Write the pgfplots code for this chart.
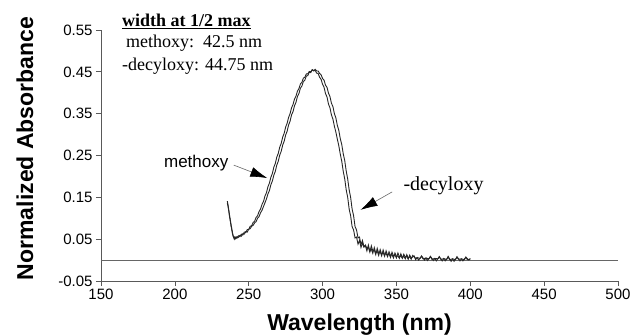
\documentclass[border=0pt]{standalone}
\usepackage{pgfplots}
\pgfplotsset{compat=1.18}
\usepackage{fontspec}
\setmainfont{Liberation Serif}
\setsansfont{Liberation Sans}
\usetikzlibrary{arrows.meta}
\begin{document}
\begin{tikzpicture}
\path[use as bounding box] (-101bp,-55bp) rectangle (534bp,281bp);
\begin{axis}[
  scale only axis, width=517bp, height=251bp,
  xmin=150, xmax=500, ymin=-0.05, ymax=0.55,
  axis x line*=bottom, axis y line*=left,
  axis line style={black!65, line width=0.8bp},
  xtick={150,200,250,300,350,400,450,500},
  xticklabels={150,200,250,300,350,400,450,500},
  ytick={-0.05,0.05,0.15,0.25,0.35,0.45,0.55},
  yticklabels={-0.05,0.05,0.15,0.25,0.35,0.45,0.55},
  tick align=outside, major tick length=5bp,
  tick style={black!65, line width=0.7bp},
  ticklabel style={font=\sffamily\fontsize{15bp}{17bp}\selectfont},
  xlabel={Wavelength (nm)}, ylabel={Normalized Absorbance},
  label style={font=\sffamily\bfseries\fontsize{23bp}{26bp}\selectfont},
  xlabel style={at={(axis description cs:0.5,0)}, anchor=base, yshift=-49bp},
  ylabel style={at={(axis description cs:-0.1315,0.528)}, anchor=base},
  clip=false,
]
% zero line
\addplot[black!60, line width=0.7bp] coordinates {(150,0) (500,0)};
% methoxy
\addplot[black!85, line width=0.9bp] coordinates {
(235.5,0.141) (236,0.132) (236.5,0.120) (237,0.108) (237.5,0.097) (238,0.086) (238.5,0.076) (239,0.066) (239.5,0.058) (240,0.052)
(240.5,0.055) (241,0.051) (242,0.056) (243,0.054) (244,0.059) (245,0.057) (246,0.063) (247,0.062) (248,0.068) (249,0.067)
(250,0.074) (251,0.075) (252,0.081) (253,0.083) (254,0.089) (255,0.092) (256,0.100) (257,0.104) (258,0.113) (259,0.119)
(260,0.128) (261,0.137) (262,0.146) (263,0.158) (264,0.166) (265,0.180) (266,0.189) (267,0.203) (268,0.212) (269,0.227)
(270,0.236) (271,0.251) (272,0.260) (273,0.275) (274,0.284) (275,0.299) (276,0.308) (277,0.323) (278,0.332) (279,0.347)
(280,0.355) (281,0.369) (282,0.377) (283,0.391) (284,0.398) (285,0.411) (286,0.416) (287,0.427) (288,0.430) (289,0.440)
(290,0.441) (291,0.449) (292,0.448) (293,0.455) (294,0.452) (295,0.454) (296,0.447) (297,0.446) (298,0.437) (299,0.432)
(300,0.420) (301,0.413) (302,0.398) (303,0.390) (304,0.373) (305,0.364) (306,0.347) (307,0.337) (308,0.320) (309,0.306)
(310,0.289) (311,0.273) (312,0.253) (313,0.236) (314,0.212) (315,0.194) (316,0.168) (317,0.150) (318,0.122) (319,0.106)
(320,0.080) (321,0.072) (322,0.053) (323,0.055) (324,0.038) (325,0.047) (326,0.030) (327,0.041) (328,0.031) (329,0.034)
(330,0.022) (331,0.036) (332,0.021) (333,0.026) (334,0.016) (335,0.030) (336,0.017) (337,0.021) (338,0.011) (339,0.025)
(340,0.014) (341,0.018) (342,0.009) (343,0.022) (344,0.012) (345,0.015) (346,0.006) (347,0.019) (348,0.010) (349,0.012)
(350,0.005) (351,0.017) (352,0.008) (353,0.010) (354,0.004) (355,0.014) (356,0.007) (357,0.009) (358,0.002) (359,0.012)
(360,0.005) (362,0.010) (363,0.001) (364,0.006) (366,0.004) (367,0.010) (369,0.000) (370,0.005) (372,0.003) (373,0.009)
(375,-0.001) (376,0.004) (378,0.003) (379,0.008) (381,-0.002) (382,0.004) (384,0.001) (385,0.009) (387,-0.003) (388,0.003)
(390,0.001) (391,0.008) (393,-0.002) (394,0.003) (396,0.001) (397,0.007) (399,0.000) (400,0.004)
};
% decyloxy
\addplot[black!85, line width=0.9bp] coordinates {
(235.5,0.137) (236,0.128) (236.5,0.117) (237,0.104) (237.5,0.094) (238,0.082) (238.5,0.073) (239,0.063) (239.5,0.056) (240,0.054)
(240.5,0.050) (241,0.055) (242,0.052) (243,0.058) (244,0.056) (245,0.062) (246,0.060) (247,0.067) (248,0.066) (249,0.073)
(250,0.073) (251,0.081) (252,0.082) (253,0.090) (254,0.093) (255,0.102) (256,0.106) (257,0.116) (258,0.122) (259,0.133)
(260,0.140) (261,0.153) (262,0.161) (263,0.175) (264,0.184) (265,0.198) (266,0.207) (267,0.222) (268,0.231) (269,0.246)
(270,0.255) (271,0.270) (272,0.279) (273,0.294) (274,0.303) (275,0.318) (276,0.327) (277,0.341) (278,0.350) (279,0.364)
(280,0.372) (281,0.385) (282,0.392) (283,0.404) (284,0.410) (285,0.421) (286,0.425) (287,0.435) (288,0.437) (289,0.445)
(290,0.445) (291,0.451) (292,0.450) (293,0.455) (294,0.453) (295,0.456) (296,0.452) (297,0.452) (298,0.446) (299,0.443)
(300,0.434) (301,0.430) (302,0.418) (303,0.413) (304,0.399) (305,0.391) (306,0.375) (307,0.367) (308,0.350) (309,0.340)
(310,0.322) (311,0.310) (312,0.290) (313,0.276) (314,0.254) (315,0.238) (316,0.213) (317,0.194) (318,0.168) (319,0.150)
(320,0.122) (321,0.106) (322,0.080) (323,0.072) (324,0.053) (325,0.055) (326,0.037) (327,0.047) (328,0.032) (329,0.036)
(330,0.028) (331,0.031) (332,0.019) (333,0.034) (334,0.022) (335,0.024) (336,0.013) (337,0.028) (338,0.016) (339,0.020)
(340,0.010) (341,0.024) (342,0.013) (343,0.016) (344,0.008) (345,0.020) (346,0.011) (347,0.013) (348,0.005) (349,0.017)
(350,0.009) (351,0.010) (352,0.004) (353,0.015) (354,0.006) (355,0.009) (356,0.003) (357,0.013) (358,0.005) (359,0.008)
(360,0.002) (361,0.011) (363,0.004) (364,0.006) (365,0.000) (367,0.009) (368,0.003) (370,0.005) (371,-0.001) (373,0.008)
(374,0.002) (376,0.004) (377,-0.002) (379,0.008) (380,0.002) (382,0.003) (383,-0.002) (385,0.007) (386,0.001) (388,0.003)
(389,-0.003) (391,0.007) (392,0.002) (394,0.003) (395,-0.002) (397,0.007) (398,0.001) (400,0.002)
};
% annotations
\node[anchor=base west, inner sep=0pt, font=\fontsize{18bp}{20bp}\selectfont] at (axis cs:164.2,0.558) {\underline{\textbf{width at 1/2 max}}};
\node[anchor=base west, inner sep=0pt, font=\fontsize{18bp}{20bp}\selectfont] at (axis cs:166.9,0.507) {methoxy:\ \ 42.5 nm};
\node[anchor=base west, inner sep=0pt, font=\fontsize{18bp}{20bp}\selectfont] at (axis cs:164.2,0.454) {-decyloxy: 44.75 nm};
\node[anchor=base west, inner sep=0pt, font=\sffamily\fontsize{17bp}{19bp}\selectfont] at (axis cs:192.6,0.2225) {methoxy};
\node[anchor=base west, inner sep=0pt, font=\fontsize{20bp}{22bp}\selectfont] at (axis cs:354.7,0.1675) {-decyloxy};
\draw[black!60, line width=0.6bp, -{Latex[length=17bp, width=10bp, black]}] (axis cs:239.9,0.227) -- (axis cs:262.6,0.196);
\draw[black!60, line width=0.6bp, -{Latex[length=17bp, width=10bp, black]}] (axis cs:347.1,0.163) -- (axis cs:325.7,0.120);
\end{axis}
\end{tikzpicture}
\end{document}
